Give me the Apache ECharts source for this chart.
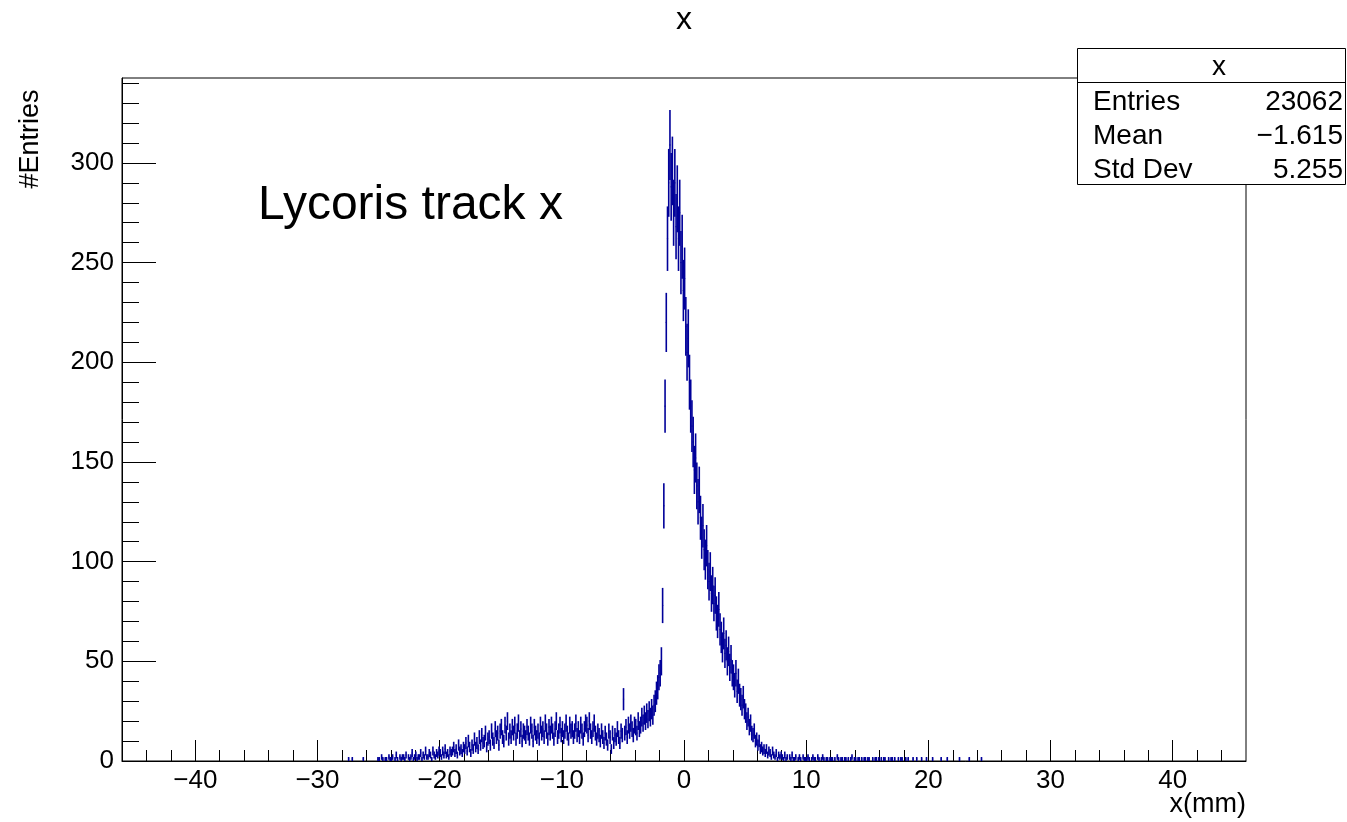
<!DOCTYPE html>
<html><head><meta charset="utf-8">
<script src="https://cdn.jsdelivr.net/npm/echarts@6/dist/echarts.min.js"></script>
<style>html,body{margin:0;padding:0;background:#fff}#c{width:1347px;height:822px}</style>
</head><body><div id="c"></div>
<script>
// ---- data (bin width 0.1 mm, counts per bin) ----
const binWidth = 0.1;
const tailLeftStart = -28.0;
const tailLeftCounts = [
  0,0,0,0,0,1,0,0,1,0,
  0,0,0,0,0,0,0,1,0,0,
  0,0,0,0,0,0,0,0,0,1,
  1,0,2,1,0,1,1,0,2,1,
  1,2,0,1,3,1,0,2,1,2,
  2,1,3,0,2,1,2,4,1,2,
  3,1,2,2,4,1,3,2,5,2,
  2,4,3,1,5,3,2,4,3,5
];
const shoulderStart = -20.0;
const shoulderCounts = [
  4,2,5,3,6,3,4,2,5,4,
  5,7,4,6,3,8,5,6,4,7,
  6,9,5,10,7,4,8,6,11,7,
  9,6,12,8,13,9,10,14,7,11,
  12,8,15,11,9,16,12,14,8,15,
  17,12,10,18,14,20,11,15,12,17,
  14,18,11,15,19,12,16,10,15,14,
  12,17,14,11,18,15,10,17,14,12,
  15,11,18,14,16,12,19,15,11,17,
  14,18,15,11,16,20,12,15,18,13,
  16,12,15,19,14,11,18,15,16,12,
  15,19,13,16,12,18,15,11,16,19,
  18,13,20,15,12,16,19,14,11,15,
  13,10,15,12,9,14,11,8,15,12,
  6,14,9,13,11,16,12,9,15,13,
  31,14,17,12,18,15,19,16,13,18,
  17,14,20,16,18,22,19,23,20,24,
  21,25,22,26,23,28,30,34,37,42
];
const peakStart = -2.0;
const peakCounts = [
  44,50,78,128,178,220,262,290,309,288,
  296,275,290,268,282,262,275,250,258,236,
  242,218,205,212,190,178,168,160,146,152,
  138,130,136,122,112,118,106,101,108,96,
  90,95,84,88,79,83,74,70,76,66
];
const fallStart = 3.0;
const fallCounts = [
  62,57,64,54,58,50,55,47,51,44,
  42,38,44,35,40,33,31,28,32,26,
  24,20,22,17,19,14,13,15,10,11,
  8,10,6,7,5,6,4,6,3,5,
  4,2,5,3,2,4,1,3,2,3,
  2,1,3,1,2,0,2,1,3,1,
  1,2,0,1,2,1,0,2,1,1
];
const tailRightStart = 10.0;
const tailRightCounts = [
  1,2,1,0,1,2,1,1,0,2,
  1,0,1,2,1,0,1,1,0,1,
  1,1,0,1,0,2,1,0,1,1,
  0,1,1,0,1,0,1,2,0,1,
  1,0,1,1,0,1,0,1,1,0,
  1,1,0,0,1,0,1,1,0,1,
  0,1,0,1,1,0,0,1,0,1,
  1,0,1,0,0,1,0,1,1,0,
  0,1,0,1,0,0,0,1,0,0,
  1,0,0,0,1,0,0,0,1,0,
  0,0,0,1,0,0,0,0,0,0,
  1,0,0,0,0,1,0,0,0,0,
  0,0,0,0,0,1,0,0,0,0,
  0,0,0,1,0,0,0,0,0,0,
  0,0,0,1,0,0,0,0,0,0
];
const xRange = [-46, 46];
const yRange = [0, 342.6];
const xMajorTicks = [-40,-30,-20,-10,0,10,20,30,40];
const xMinorTicks = [-44,-42,-38,-36,-34,-32,-28,-26,-24,-22,-18,-16,-14,-12,-8,-6,-4,-2,2,4,6,8,12,14,16,18,22,24,26,28,32,34,36,38,42,44];
const yMajorTicks = [0,50,100,150,200,250,300];
const yMinorTicks = [10,20,30,40,60,70,80,90,110,120,130,140,160,170,180,190,210,220,230,240,260,270,280,290,310,320,330,340];
const chartTitle = 'x';
const xTitle = 'x(mm)';
const yTitle = '#Entries';
const noteText = 'Lycoris track x';
const statsHeader = 'x';
const statsLabels = ['Entries', 'Mean', 'Std Dev'];
const statsValues = ['23062', '\u22121.615', '5.255'];

// ---- build ----
const segments = [
  [tailLeftStart, tailLeftCounts], [shoulderStart, shoulderCounts],
  [peakStart, peakCounts], [fallStart, fallCounts], [tailRightStart, tailRightCounts]
];
const histData = [];
segments.forEach(([s, arr]) => arr.forEach((n, i) => {
  if (n > 0) histData.push([s + (i + 0.5) * binWidth, n]);
}));

const FONT = 'Liberation Sans, Arial, Helvetica, sans-serif';
const HCOL = '#000099';
const fmt = v => (v < 0 ? '\u2212' + Math.abs(v) : String(v));

const chart = echarts.init(document.getElementById('c'), null, {renderer: 'canvas'});
const gridL = 122, gridT = 78, gridR = 101, gridB = 61;

const statsX = 1077.5, statsY = 48.5, statsW = 268, statsH = 136, statsSep = 82.5;
const rowY = [101, 135, 169];
const graphics = [
  {type: 'text', x: 684, y: 20, z: 50, style: {text: chartTitle, font: '32px ' + FONT, fill: '#000', align: 'center', verticalAlign: 'middle'}},
  {type: 'text', x: 1246, y: 805, z: 50, style: {text: xTitle, font: '27px ' + FONT, fill: '#000', align: 'right', verticalAlign: 'middle'}},
  {type: 'text', x: 31, y: 139, rotation: Math.PI / 2, z: 50, style: {text: yTitle, font: '27px ' + FONT, fill: '#000', align: 'center', verticalAlign: 'middle'}},
  {type: 'text', x: 258, y: 206, z: 50, style: {text: noteText, font: '48px ' + FONT, fill: '#000', align: 'left', verticalAlign: 'middle'}},
  {type: 'rect', z: 60, shape: {x: statsX, y: statsY, width: statsW, height: statsH}, style: {fill: '#fff', stroke: '#000', lineWidth: 1}},
  {type: 'line', z: 61, shape: {x1: statsX, y1: statsSep, x2: statsX + statsW, y2: statsSep}, style: {stroke: '#000', lineWidth: 1}},
  {type: 'text', z: 62, x: 1219, y: 67, style: {text: statsHeader, font: '28px ' + FONT, fill: '#000', align: 'center', verticalAlign: 'middle'}}
];
statsLabels.forEach((t, i) => {
  graphics.push({type: 'text', z: 62, x: 1093, y: rowY[i] + 1, style: {text: t, font: '28px ' + FONT, fill: '#000', align: 'left', verticalAlign: 'middle'}});
  graphics.push({type: 'text', z: 62, x: 1343, y: rowY[i] + 1, style: {text: statsValues[i], font: '28px ' + FONT, fill: '#000', align: 'right', verticalAlign: 'middle'}});
});

const axisCommon = {
  min: xRange[0], max: xRange[1], type: 'value', splitLine: {show: false}
};
chart.setOption({
  animation: false,
  backgroundColor: '#fff',
  grid: {left: gridL, top: gridT, right: gridR, bottom: gridB, show: true, borderColor: '#000', borderWidth: 1, backgroundColor: 'transparent', containLabel: false},
  xAxis: [
    Object.assign({}, axisCommon, {
      position: 'bottom',
      axisLine: {show: true, onZero: false, lineStyle: {color: '#000', width: 1}},
      axisTick: {show: true, inside: true, length: 21, customValues: xMajorTicks, lineStyle: {color: '#000', width: 1}},
      axisLabel: {show: true, customValues: xMajorTicks, formatter: fmt, fontSize: 26, fontFamily: FONT, color: '#000', margin: 7}
    }),
    Object.assign({}, axisCommon, {
      position: 'bottom',
      axisLine: {show: false, onZero: false},
      axisTick: {show: true, inside: true, length: 11, customValues: xMinorTicks, lineStyle: {color: '#000', width: 1}},
      axisLabel: {show: false}
    })
  ],
  yAxis: [
    {
      type: 'value', min: yRange[0], max: yRange[1], position: 'left', splitLine: {show: false},
      axisLine: {show: true, onZero: false, lineStyle: {color: '#000', width: 1}},
      axisTick: {show: true, inside: true, length: 34, customValues: yMajorTicks, lineStyle: {color: '#000', width: 1}},
      axisLabel: {show: true, customValues: yMajorTicks, formatter: fmt, fontSize: 26, fontFamily: FONT, color: '#000', margin: 8}
    },
    {
      type: 'value', min: yRange[0], max: yRange[1], position: 'left', splitLine: {show: false},
      axisLine: {show: false, onZero: false},
      axisTick: {show: true, inside: true, length: 17, customValues: yMinorTicks, lineStyle: {color: '#000', width: 1}},
      axisLabel: {show: false}
    }
  ],
  graphic: graphics,
  series: [{
    type: 'custom',
    xAxisIndex: 0, yAxisIndex: 0,
    clip: true,
    data: histData,
    renderItem: function (params, api) {
      const x = api.value(0), n = api.value(1), e = Math.sqrt(n);
      const top = api.coord([x, n + e]);
      const bot = api.coord([x, n - e]);
      const c = api.coord([x, n]);
      const hw = api.size([binWidth, 0])[0] / 2;
      return {type: 'group', children: [
        {type: 'line', shape: {x1: top[0], y1: top[1], x2: bot[0], y2: bot[1]}, style: {stroke: HCOL, lineWidth: 1.6}},
        {type: 'line', shape: {x1: c[0] - hw, y1: c[1], x2: c[0] + hw, y2: c[1]}, style: {stroke: HCOL, lineWidth: 1}}
      ]};
    }
  }]
});
</script></body></html>
